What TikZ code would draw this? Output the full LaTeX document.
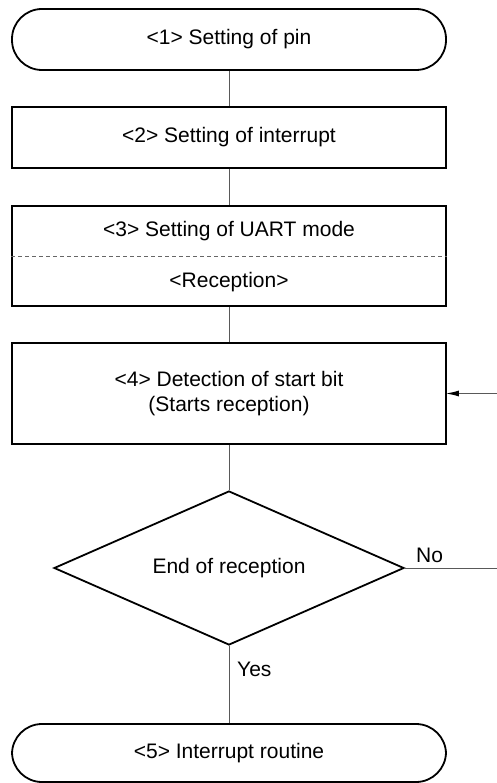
\documentclass[tikz,border=0pt]{standalone}
\usepackage{fontspec}
\setmainfont{Liberation Sans}
\usetikzlibrary{shapes.geometric, arrows.meta}

\begin{document}
\begin{tikzpicture}[x=1pt,y=-1pt,
  every node/.style={font=\fontsize{21}{25}\selectfont},
  terminal/.style={draw, line width=1.8pt, rounded corners=30pt, minimum width=434pt, minimum height=61pt, inner sep=0pt},
  procbox/.style={draw, line width=1.8pt, minimum width=434pt, inner sep=0pt},
  decision/.style={draw, diamond, line width=1.8pt, aspect=2.27, minimum width=350pt, minimum height=154pt, inner sep=0pt},
  flowline/.style={line width=1pt, black!65},
  divider/.style={line width=0.8pt, black!60, dash pattern=on 4pt off 3pt},
  lbl/.style={inner sep=0pt}]
\useasboundingbox (0,0) rectangle (497,783);
\node[terminal] (pinset) at (229,39.5) {<1> Setting of pin};
\node[procbox, minimum height=61pt] (intset) at (229,137.5) {<2> Setting of interrupt};
\node[procbox, minimum height=100pt] (uartset) at (229,256) {};
\node (uartmode) at (229,231) {<3> Setting of UART mode};
\node (recv) at (229,282) {<Reception>};
\node[procbox, minimum height=101pt, align=center] (detect) at (229,393.5) {<4> Detection of start bit\\(Starts reception)};
\node[decision] (endrecv) at (229,568) {End of reception};
\node[terminal, minimum height=58pt] (introutine) at (229,753) {<5> Interrupt routine};
\coordinate (noout) at (497,568);
\coordinate (loopin) at (497,393.5);
\node[lbl, anchor=base west] (nolbl) at (416,562) {No};
\node[lbl, anchor=base west] (yeslbl) at (237,676) {Yes};
% connectors
\draw[divider] (uartset.west) -- (uartset.east);
\draw[flowline] (pinset) -- (intset);
\draw[flowline] (intset) -- (uartset);
\draw[flowline] (uartset) -- (detect);
\draw[flowline] (detect) -- (endrecv);
\draw[flowline] (endrecv) -- (introutine);
\draw[flowline] (endrecv.east) -- (noout);
\draw[flowline, -{Latex[length=13pt,width=6pt,black]}, shorten >=-1pt] (loopin) -- (detect.east);
\end{tikzpicture}
\end{document}
